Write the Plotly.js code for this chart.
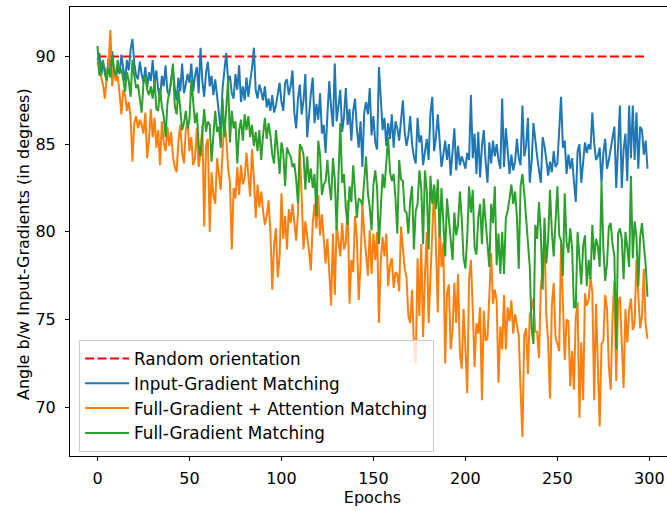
<!DOCTYPE html>
<html>
<head>
<meta charset="utf-8">
<script src="https://cdn.plot.ly/plotly-3.0.1.min.js"></script>
<style>
html,body{margin:0;padding:0;overflow:hidden;background:#fff;}
#chart{width:680px;height:511px;}
</style>
</head>
<body>
<div id="chart"></div>
<script>
// Input-Gradient Matching (blue)
const inputGrad = [
89.8,90.2,88.9,89.6,89.3,88.8,89.9,89.4,90.3,89.1,
88.7,89.5,89.0,90.1,89.3,88.6,89.8,89.2,90.4,91.0,
89.6,88.9,88.7,89.7,89.0,88.5,89.4,88.2,89.1,88.6,
89.8,88.4,89.2,88.1,87.6,88.9,88.3,89.5,88.0,87.8,
88.6,89.3,88.2,87.5,88.8,88.0,89.6,87.9,88.4,89.0,
88.5,89.6,88.0,88.9,89.4,87.9,90.5,88.6,87.7,89.1,
89.7,88.3,88.9,87.8,88.7,87.6,86.9,85.8,88.2,89.4,
90.2,88.6,88.9,87.9,87.6,89.0,88.1,89.5,87.4,88.3,
87.5,88.8,87.7,88.6,89.3,90.5,88.1,87.6,88.4,88.0,
87.5,88.3,87.1,87.6,86.9,87.8,86.8,87.2,87.9,88.5,
87.4,86.9,88.5,88.7,87.8,88.3,89.2,86.8,85.9,87.6,
88.4,86.7,87.5,89.0,85.4,86.8,87.9,88.8,86.2,87.3,
86.4,87.9,85.6,86.1,84.5,86.7,88.6,87.1,86.0,89.6,
86.3,87.2,88.1,85.7,86.6,88.2,86.1,87.0,85.2,86.9,
87.6,85.9,84.8,86.3,83.7,86.8,87.4,86.7,88.2,85.5,
86.6,85.1,84.7,89.4,87.3,85.8,86.5,84.9,86.2,85.3,
86.7,84.8,86.3,85.9,85.2,86.6,87.5,85.7,84.9,85.5,
86.6,85.0,84.3,83.9,86.5,85.1,85.5,83.8,84.7,85.3,
84.1,86.8,87.7,84.6,85.4,86.7,85.2,83.7,84.4,85.2,
84.1,85.0,83.2,84.6,85.9,83.5,84.9,83.8,84.3,84.0,
83.6,84.5,84.1,87.8,84.2,85.6,83.3,85.7,83.1,84.9,
85.8,84.0,82.8,85.1,83.9,85.2,84.3,85.0,84.1,83.6,
87.6,83.7,85.9,84.6,83.3,84.4,83.5,84.0,85.3,84.2,
83.8,87.2,84.3,84.9,86.5,82.8,84.0,86.2,85.1,84.3,
83.5,82.8,85.4,84.9,84.1,83.2,84.0,83.4,84.6,83.7,
83.9,86.0,87.7,84.8,85.2,83.3,84.4,83.6,84.2,82.9,
81.7,84.6,85.0,82.8,83.9,85.1,84.5,85.0,84.7,86.8,
85.1,84.1,84.3,84.8,82.8,84.5,85.3,83.6,84.1,84.7,
85.5,86.0,82.5,85.1,87.2,82.5,84.7,85.6,82.9,87.2,
84.2,87.2,84.1,86.8,83.6,86.0,85.8,84.4,85.2,83.6
];
// Full-Gradient + Attention Matching (orange)
const fullGradAttn = [
89.7,89.2,88.9,88.4,87.6,88.8,89.5,91.5,88.3,89.4,
88.6,88.9,87.9,86.7,88.1,87.8,86.9,87.4,86.5,84.0,
86.2,86.6,85.9,86.4,86.1,85.6,86.8,84.2,85.3,87.0,
85.4,86.5,84.8,85.8,83.8,86.3,85.1,84.6,86.0,84.9,
85.7,84.3,83.7,83.4,85.2,86.1,84.5,83.9,85.8,86.3,
84.6,85.4,83.8,84.2,85.9,83.7,84.5,86.1,80.3,84.9,
85.3,80.0,83.4,82.1,81.6,84.2,83.3,82.4,84.6,86.2,
85.4,83.6,82.8,79.0,82.5,81.9,83.7,82.1,83.8,82.7,
83.1,84.5,83.2,82.0,84.7,83.1,80.8,82.7,81.4,82.3,
81.2,80.4,80.9,81.8,80.0,76.7,79.3,80.2,77.4,78.6,
82.2,79.6,80.9,79.0,81.3,80.5,81.6,80.7,79.5,81.1,
84.7,82.0,79.0,80.6,79.8,78.9,77.8,80.5,81.6,80.2,
82.1,79.8,81.0,79.3,78.2,79.6,77.4,75.8,79.9,76.4,
80.4,79.4,78.6,80.5,79.0,79.4,81.8,75.9,78.4,77.7,
80.9,79.7,76.1,78.1,81.7,79.9,78.5,77.5,80.1,77.6,
79.9,78.4,80.0,74.8,78.3,79.7,78.6,79.9,76.9,78.1,
78.5,76.8,77.7,77.6,76.6,80.3,79.1,77.9,77.4,75.2,
74.8,76.7,73.6,72.5,78.5,75.2,79.3,74.0,77.5,80.0,
74.8,77.3,80.1,82.6,79.2,75.4,80.6,78.0,79.4,72.5,
76.5,77.0,73.3,74.4,77.1,74.8,77.6,73.1,72.2,75.6,
73.4,70.8,77.3,78.4,75.6,72.3,74.8,74.2,75.7,70.4,
75.5,73.8,73.9,76.3,78.8,75.9,76.7,76.1,71.4,74.6,
73.3,76.4,73.3,75.7,74.9,76.1,74.2,75.3,74.6,74.1,
71.0,68.3,74.1,74.5,71.9,75.3,75.6,76.2,74.3,74.3,
72.8,76.8,78.0,79.7,75.2,73.7,70.5,75.8,77.1,74.0,
73.6,73.2,79.3,76.5,72.7,75.0,74.9,71.2,73.2,71.0,
75.1,76.0,69.4,73.7,70.4,76.5,75.8,76.1,77.4,76.6,
70.4,75.9,72.5,68.9,73.6,73.8,76.4,75.6,72.3,71.0,
75.2,77.2,71.5,75.9,76.3,73.2,71.1,75.6,73.7,75.5,
76.2,74.4,74.8,78.4,76.3,74.5,75.2,77.9,74.7,73.9
];
// Full-Gradient Matching (green)
const fullGrad = [
90.6,88.9,89.5,89.8,89.0,88.6,89.4,88.8,90.1,89.2,
88.9,89.8,89.1,89.3,88.7,88.0,89.1,88.6,87.7,89.8,
88.9,88.2,88.4,87.6,86.8,88.5,88.9,88.1,87.8,88.3,
87.6,88.7,87.0,86.9,88.2,87.1,86.6,85.4,87.3,88.0,
88.6,89.6,87.2,86.7,88.1,87.0,85.8,86.2,86.9,85.9,
86.4,88.7,87.4,86.2,86.8,85.0,84.3,85.8,87.0,85.7,
86.3,86.1,84.0,85.5,86.9,85.7,86.0,84.8,87.6,85.4,
86.8,88.7,85.1,86.9,85.9,86.3,83.9,85.8,86.4,85.2,
86.7,85.8,86.6,85.4,86.1,84.9,85.7,84.6,85.8,84.1,
85.5,86.5,85.3,86.2,85.5,84.4,83.9,85.8,84.7,83.3,
85.1,84.5,82.6,84.8,84.5,84.3,83.7,83.9,83.0,81.6,
85.0,84.8,84.4,82.4,84.3,82.8,83.6,82.5,83.3,80.9,
85.2,84.4,82.1,82.7,82.9,84.1,82.7,81.8,84.2,83.0,
80.1,83.6,86.2,82.8,83.3,81.3,80.4,82.6,81.7,83.8,
82.5,80.8,81.9,81.8,81.5,83.1,84.3,82.2,81.4,80.1,
82.7,83.5,82.5,79.3,81.6,83.3,82.5,84.2,85.4,83.4,
82.9,83.3,81.9,79.9,84.1,83.0,82.9,81.2,81.1,79.9,
81.8,82.6,79.0,81.2,81.6,83.5,82.5,79.3,83.5,82.4,
79.0,83.2,81.6,82.7,81.3,83.0,79.7,82.5,80.6,78.6,
81.9,80.6,79.8,78.4,81.1,79.8,80.4,82.3,80.8,78.5,
77.9,79.7,82.6,81.1,82.4,79.1,78.7,80.8,81.6,79.3,
81.9,80.7,79.6,78.0,81.6,80.5,82.6,78.1,79.9,77.6,
80.0,77.6,80.8,81.2,81.9,82.7,81.6,82.3,80.9,77.9,
82.6,83.3,82.2,80.7,79.7,78.0,74.5,73.6,80.4,79.6,
81.7,79.9,76.7,80.8,78.2,79.6,82.4,80.0,78.6,80.3,
82.6,79.8,79.5,77.5,82.2,79.4,78.8,80.2,79.1,75.7,
75.7,80.0,78.2,77.0,79.2,79.8,76.9,78.4,77.3,80.4,
78.4,79.6,79.2,78.0,82.8,79.1,77.2,78.2,80.3,80.5,
79.3,78.6,73.3,79.9,80.2,79.6,77.3,80.0,79.1,78.0,
83.2,78.5,80.6,79.7,76.9,79.7,80.5,79.4,78.1,76.3
];
// Random orientation reference
const randomX = [0, 299];
const randomY = [90, 90];
const xTicks = [0, 50, 100, 150, 200, 250, 300];
const yTicks = [70, 75, 80, 85, 90];
const xTitle = 'Epochs';
const yTitle = 'Angle b/w Input-Gradients (in degrees)';

const epochs = inputGrad.map((_, i) => i);

const tickFont = {family: 'DejaVu Sans, sans-serif', size: 16, color: '#000'};
const titleFont = {family: 'DejaVu Sans, sans-serif', size: 16, color: '#000'};
const legendFont = {family: 'DejaVu Sans, sans-serif', size: 16.8, color: '#000'};

const traces = [
  {x: randomX, y: randomY, mode: 'lines', name: 'Random orientation',
   line: {color: '#ff0000', width: 2, dash: '9px,3.5px'}, legendgroup: 'a'},
  {x: epochs, y: inputGrad, mode: 'lines', name: 'Input-Gradient Matching',
   line: {color: '#1f77b4', width: 2}, legendgroup: 'b'},
  {x: epochs, y: fullGradAttn, mode: 'lines', name: 'Full-Gradient + Attention Matching',
   line: {color: '#ff7f0e', width: 2}, legendgroup: 'c'},
  {x: epochs, y: fullGrad, mode: 'lines', name: 'Full-Gradient Matching',
   line: {color: '#2ca02c', width: 2}, legendgroup: 'd'}
];

const layout = {
  width: 680, height: 511,
  margin: {l: 70, r: 5, t: 7, b: 55},
  paper_bgcolor: '#fff', plot_bgcolor: '#fff',
  font: tickFont,
  showlegend: true,
  xaxis: {
    range: [-14.95, 313.95], tickvals: xTicks, ticktext: xTicks.map(String),
    showgrid: false, zeroline: false, showline: true, mirror: true,
    linecolor: '#000', linewidth: 1, ticks: 'outside', ticklen: 4, tickcolor: '#000',
    ticklabelstandoff: 4,
    tickfont: tickFont, title: {text: xTitle, font: titleFont, standoff: 4}
  },
  yaxis: {
    range: [67.22, 92.82], tickvals: yTicks, ticktext: yTicks.map(String),
    showgrid: false, zeroline: false, showline: true, mirror: true,
    linecolor: '#000', linewidth: 1, ticks: 'outside', ticklen: 4, tickcolor: '#000',
    ticklabelstandoff: 6,
    tickfont: tickFont
  },
  annotations: [{
    text: yTitle, textangle: -90, showarrow: false,
    xref: 'paper', yref: 'paper', x: -0.0777, y: 0.472,
    xanchor: 'center', yanchor: 'middle', font: titleFont
  }],
  legend: {
    x: 0.015, y: 0.009, xanchor: 'left', yanchor: 'bottom',
    bgcolor: 'rgba(255,255,255,0.8)', bordercolor: '#cccccc', borderwidth: 1,
    font: legendFont, tracegroupgap: 2, traceorder: 'normal', itemwidth: 44
  }
};

Plotly.newPlot('chart', traces, layout, {displayModeBar: false, staticPlot: true});
</script>
</body>
</html>
